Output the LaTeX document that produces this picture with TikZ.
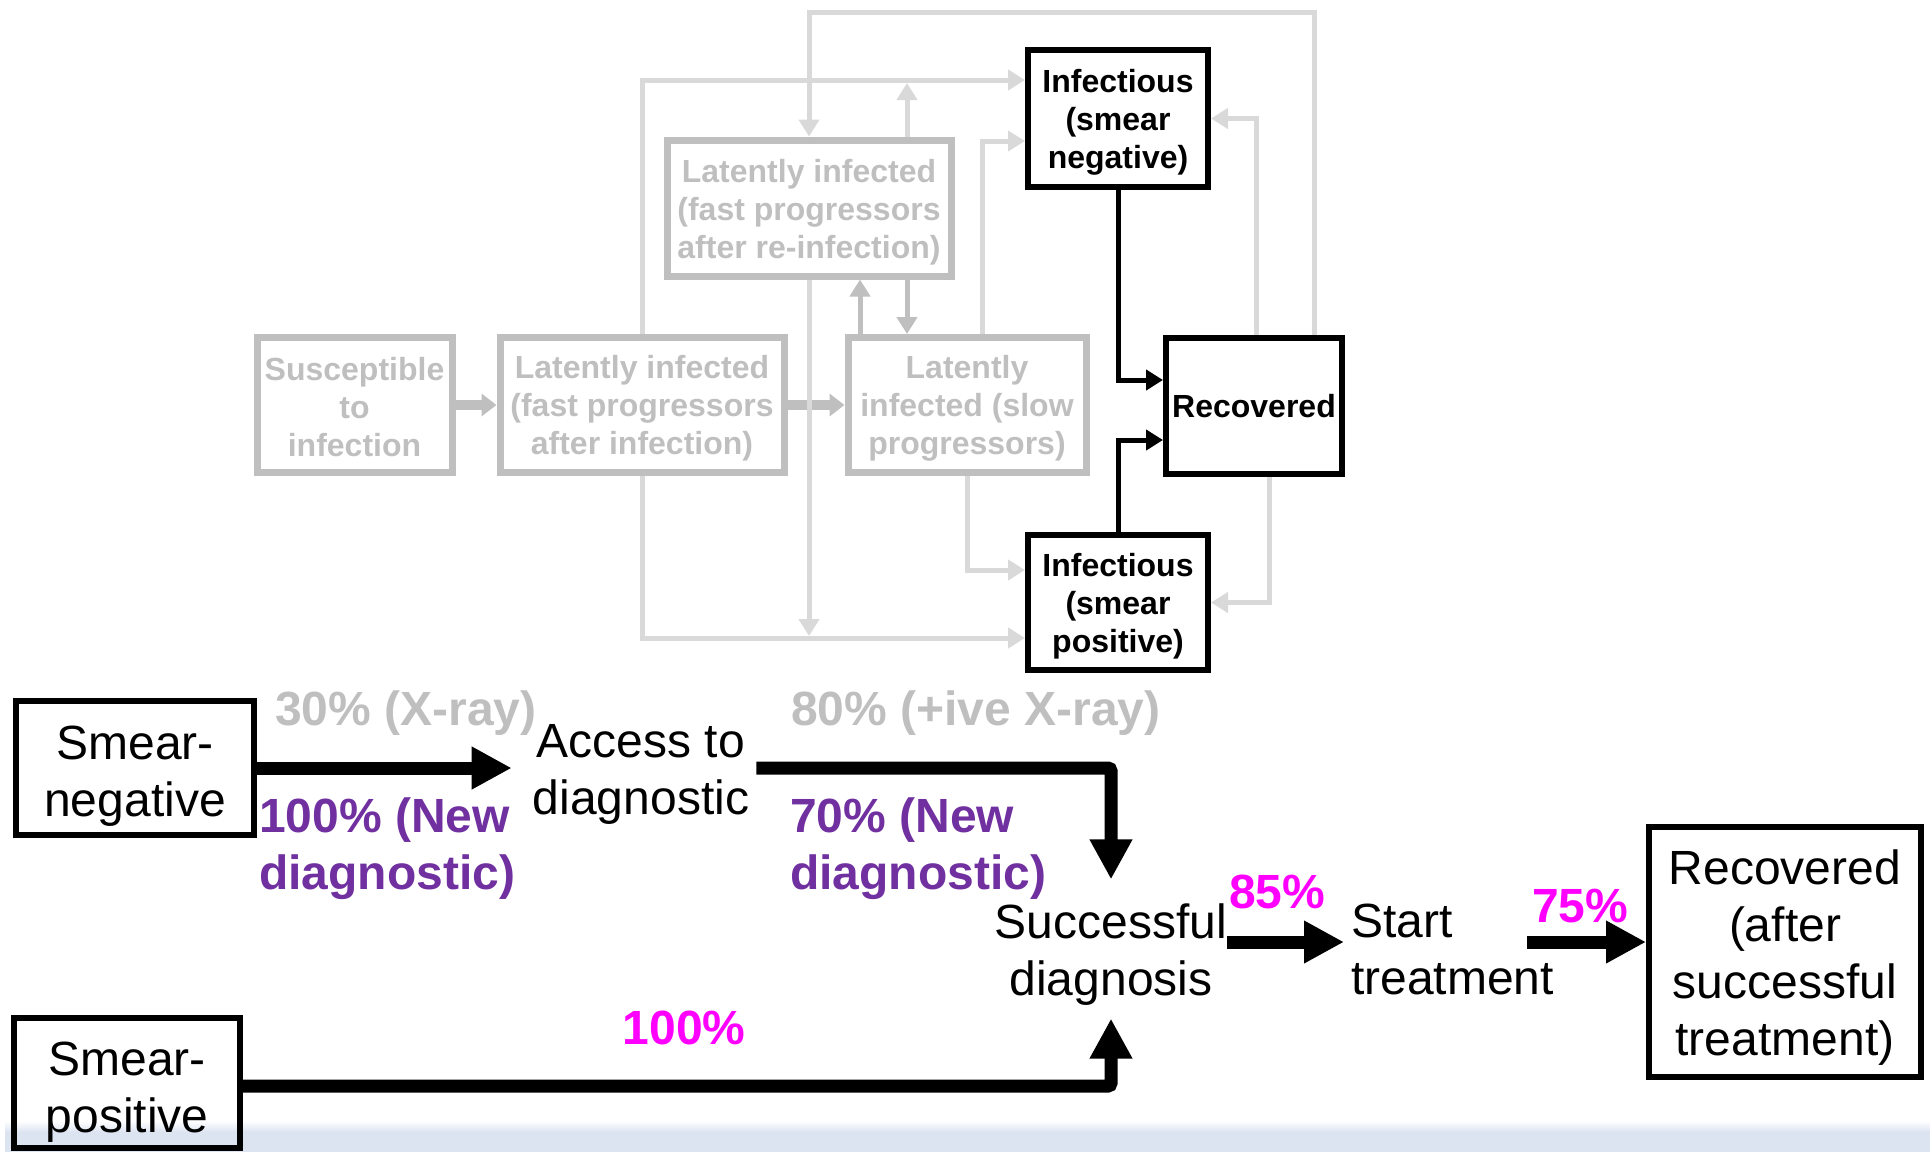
\documentclass[tikz,border=0pt]{standalone}
\usepackage{fontspec}
\setmainfont{Liberation Sans}
\usetikzlibrary{arrows.meta,calc}
\definecolor{boxgray}{HTML}{BFBFBF}
\definecolor{linegray}{HTML}{D9D9D9}
\definecolor{newpurple}{HTML}{7030A0}
\definecolor{pctpink}{HTML}{FF00FF}
\definecolor{bandblue}{HTML}{DCE3F1}
% taller first line, so a box's text sits a little below its middle
\newcommand\firstline[1]{\rule{0pt}{#1}}

\begin{document}
\begin{tikzpicture}[x=1pt,y=-1pt,
  topfont/.style={font=\fontsize{32}{38}\selectfont\bfseries},
  bigfont/.style={font=\fontsize{48}{57}\selectfont},
  pctfont/.style={font=\fontsize{48}{57}\selectfont\bfseries},
  graybox/.style={draw=boxgray, line width=7pt, text=boxgray, topfont, align=center,
    inner sep=0pt, minimum height=135pt},
  blackbox/.style={draw=black, line width=6pt, topfont, align=center, inner sep=0pt,
    minimum width=180pt},
  stagebox/.style={draw=black, line width=6pt, bigfont, align=center, inner sep=0pt},
  stagetext/.style={bigfont, inner sep=0pt},
  thinflow/.style={draw=linegray, line width=5pt, -{Triangle[length=17pt,width=20pt]}},
  thickflow/.style={draw=boxgray, line width=10pt, -{Triangle[length=15pt,width=22pt]}},
  midflow/.style={draw=boxgray, line width=5pt, -{Triangle[length=17pt,width=20pt]}},
  blackflow/.style={draw=black, line width=5pt, -{Triangle[length=17pt,width=20pt]}},
  bigflow/.style={draw=black, line width=13pt, rounded corners=3pt,
    -{Triangle[length=40pt,width=40pt]}},
]
\useasboundingbox (0,0) rectangle (1930,1152);

% pale band along the bottom edge
\shade[top color=white, bottom color=bandblue] (5,1121) rectangle (1930,1132);
\fill[bandblue] (5,1132) rectangle (1930,1152);

% ---- transmission model compartments ----
\node[graybox, minimum width=195pt] (susc) at (354.5,405) {\firstline{27pt}Susceptible\\to\\infection};
\node[graybox, minimum width=284pt] (latfast) at (642,405) {\firstline{30pt}Latently infected\\(fast progressors\\after infection)};
\node[graybox, minimum width=238pt] (latslow) at (967,405) {\firstline{30pt}Latently\\infected (slow\\progressors)};
\node[graybox, minimum width=284pt, minimum height=136pt] (reinf) at (809,208) {\firstline{31pt}Latently infected\\(fast progressors\\after re-infection)};
\node[blackbox, minimum height=137pt] (infneg) at (1118,118.5) {\firstline{31.5pt}Infectious\\(smear\\negative)};
\node[blackbox, minimum width=176pt, minimum height=136pt] (recov) at (1254,406) {Recovered};
\node[blackbox, minimum height=135pt] (infpos) at (1118,602.5) {\firstline{31.5pt}Infectious\\(smear\\positive)};

\coordinate (looptop) at (809,12.5);
\coordinate (reinfup) at (907,83);
\coordinate (reinfdown) at (809,636);

% transitions between compartments
\draw[thickflow] (susc.east) -- (latfast.west);
\draw[thickflow] (latfast.east) -- (latslow.west);
\draw[midflow] ($(latslow.north)+(-107,0)$) -- ($(reinf.south)+(51,0)$);
\draw[midflow] ($(reinf.south)+(98,0)$) -- ($(latslow.north)+(-60,0)$);

\draw[thinflow] (latfast.north) |- ($(infneg.west)+(0,-38.5)$);
\draw[thinflow] ($(recov.north)+(60,0)$) |- (looptop) -- (reinf.north);
\draw[thinflow] ($(reinf.north)+(98,0)$) -- (reinfup);
\draw[thinflow] ($(latslow.north)+(15,0)$) |- ($(infneg.west)+(0,22.5)$);
\draw[thinflow] ($(recov.north)+(2,0)$) |- (infneg.east);
\draw[thinflow] (latfast.south) |- ($(infpos.west)+(0,35.5)$);
\draw[thinflow] (reinf.south) -- (reinfdown);
\draw[thinflow] (latslow.south) |- ($(infpos.west)+(0,-32.5)$);
\draw[thinflow] ($(recov.south)+(15,0)$) |- (infpos.east);

\draw[blackflow] (infneg.south) |- ($(recov.west)+(0,-26)$);
\draw[blackflow] (infpos.north) |- ($(recov.west)+(0,34)$);

% ---- diagnosis and treatment cascade ----
\node[stagebox, minimum width=238pt, minimum height=134pt] (sneg) at (135,768) {\firstline{49pt}Smear-\\negative};
\node[stagebox, minimum width=226pt, minimum height=130pt] (spos) at (127,1083) {\firstline{52pt}Smear-\\positive};
\node[stagebox, minimum width=272pt, minimum height=250pt] (recafter) at (1785,952) {\firstline{45pt}Recovered\\(after\\successful\\treatment)};
\node[stagetext, align=center] (access) at (641,774) {Access to\\diagnostic};
\node[stagetext, align=center] (succ) at (1111,954.5) {Successful\\diagnosis};
\node[stagetext, align=left, anchor=west] (start) at (1351,949.5) {Start\\treatment};

\node[pctfont, text=boxgray, inner sep=0pt, anchor=base] (l30) at (406,725) {30\% (X-ray)};
\node[pctfont, text=boxgray, inner sep=0pt, anchor=base west] (l80) at (791,725) {80\% (+ive X-ray)};
\node[pctfont, text=newpurple, inner sep=0pt, align=left, anchor=west] (l100new) at (259,849) {100\% (New\\diagnostic)};
\node[pctfont, text=newpurple, inner sep=0pt, align=left, anchor=west] (l70new) at (790,849) {70\% (New\\diagnostic)};
\node[pctfont, text=pctpink, inner sep=0pt, anchor=base] (l100) at (684,1044) {100\%};
\node[pctfont, text=pctpink, inner sep=0pt, anchor=base west] (l85) at (1229,908) {85\%};
\node[pctfont, text=pctpink, inner sep=0pt, anchor=base west] (l75) at (1532,922) {75\%};

\draw[bigflow] (sneg.east) -- ($(access.west |- sneg.east)+(-21,0)$);
\draw[bigflow] ($(access.east |- sneg.east)+(7,0)$) -| ($(succ.north)+(0,-24)$);
\draw[bigflow] ($(spos.east)+(0,3)$) -| ($(succ.south)+(0,13)$);
\draw[bigflow] ($(succ.east)+(0,-12.5)$) -- ($(start.west)+(-7,-7.5)$);
\draw[bigflow] ($(start.west)+(176,-7.5)$) -- ($(recafter.west)+(0,-10)$);
\end{tikzpicture}
\end{document}
